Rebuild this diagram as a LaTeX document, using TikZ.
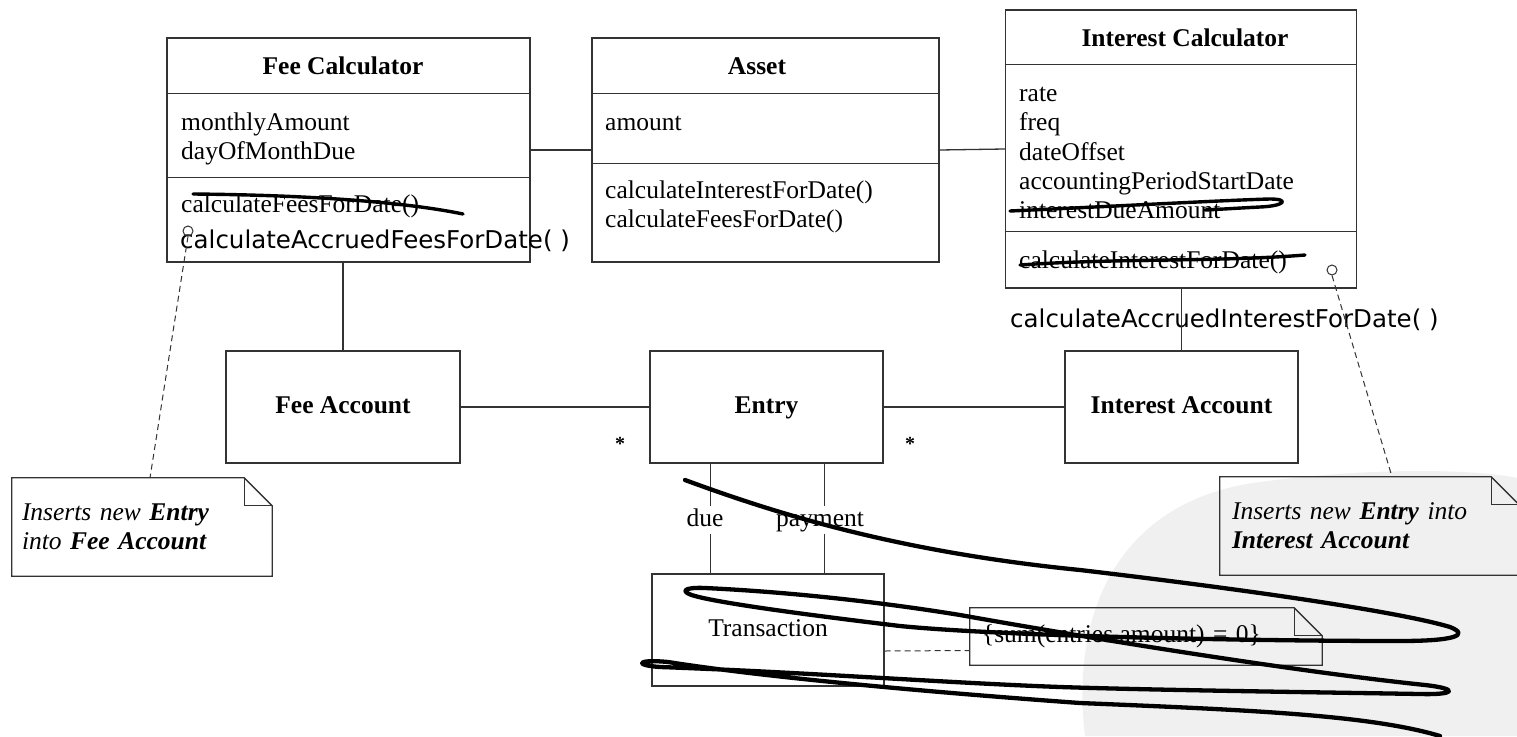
\documentclass[tikz,border=0pt]{standalone}
\usepackage{fontspec}
\setmainfont{Liberation Serif}
\newfontfamily\handfont{DejaVu Sans}
\usetikzlibrary{positioning}

\tikzset{
  cls/.style={draw=black!80, line width=1.3pt, inner sep=0, text height=0.7em, text depth=0.22em},
  attr/.style={inner sep=0, anchor=west, align=left},
  wire/.style={draw=black!80, line width=1.3pt},
  hint/.style={draw=black!80, line width=1pt, dash pattern=on 6pt off 4pt},
  notebox/.style={inner xsep=10pt, inner ysep=0, align=left, font=\itshape},
  scribble/.style={line width=4.3pt, line cap=round, line join=round},
  hand/.style={inner sep=0, anchor=west, font=\handfont\fontsize{24.5}{26}\selectfont},
  mult/.style={inner sep=0, font=\bfseries\fontsize{20}{22}\selectfont},
  role/.style={fill=white, inner sep=2pt, text height=0.7em, text depth=0.22em},
}

\begin{document}
\fontsize{25.5}{29.3}\selectfont
\begin{tikzpicture}[x=1pt, y=-1pt]
  \path[use as bounding box, fill=white] (0,0) rectangle (1517,736);
  % watermark
  \fill[black!6] (1085,736) .. controls (1070,610) and (1120,500) .. (1260,482)
    .. controls (1380,466) and (1480,470) .. (1517,478) -- (1517,736) -- cycle;

  % Paths, nodes and wires:
  \node[cls, minimum width=363, minimum height=224] (feeCalc) at (348.5,150) {};
  \draw[wire] ([yshift=-56pt]feeCalc.north west) -- ([yshift=-56pt]feeCalc.north east);
  \draw[wire] ([yshift=-140pt]feeCalc.north west) -- ([yshift=-140pt]feeCalc.north east);
  \node[font=\bfseries] (feeCalcT) at (343,66) {Fee Calculator};
  \node[attr] (feeCalcA) at (181,139) {monthlyAmount\\dayOfMonthDue};
  \node[attr] (feeCalcM) at (181,206) {calculateFeesForDate()};
  \node[hand] (feeCalcH) at (180,241) {calculateAccruedFeesForDate( )};

  \node[cls, minimum width=347, minimum height=224] (asset) at (765.5,150) {};
  \draw[wire] ([yshift=-56pt]asset.north west) -- ([yshift=-56pt]asset.north east);
  \draw[wire] ([yshift=-126pt]asset.north west) -- ([yshift=-126pt]asset.north east);
  \node[font=\bfseries] (assetT) at (757,66) {Asset};
  \node[attr] (assetA) at (605,123) {amount};
  \node[attr] (assetM) at (605,207) {calculateInterestForDate()\\calculateFeesForDate()};

  \node[cls, minimum width=351, minimum height=278] (intCalc) at (1181,149) {};
  \draw[wire] ([yshift=-55pt]intCalc.north west) -- ([yshift=-55pt]intCalc.north east);
  \draw[wire] ([yshift=-222pt]intCalc.north west) -- ([yshift=-222pt]intCalc.north east);
  \node[font=\bfseries] (intCalcT) at (1185,38) {Interest Calculator};
  \node[attr] (intCalcA) at (1019,153) {rate\\freq\\dateOffset\\accountingPeriodStartDate\\interestDueAmount};
  \node[attr] (intCalcM) at (1019,262) {calculateInterestForDate()};
  \node[hand] (intCalcH) at (1010,320) {calculateAccruedInterestForDate( )};

  \node[cls, minimum width=234, minimum height=112, font=\bfseries] (feeAcc) at (343,407) {Fee Account};
  \node[cls, minimum width=233, minimum height=112, font=\bfseries] (entry) at (766.5,407) {Entry};
  \node[cls, minimum width=233, minimum height=112, font=\bfseries] (intAcc) at (1181.5,407) {Interest Account};
  \node[cls, minimum width=232, minimum height=112] (trans) at (768,630) {Transaction};

  \draw[wire] (feeCalc.east) -- (asset.west);
  \draw[wire] (asset.east) -- (intCalc.west);
  \draw[wire] (feeAcc.north) -- (feeAcc.north |- feeCalc.south);
  \draw[wire] (intAcc.north) -- (intAcc.north |- intCalc.south);
  \draw[wire] (feeAcc.east) -- (entry.west);
  \draw[wire] (entry.east) -- (intAcc.west);
  \node[mult] (multL) at (620,444) {*};
  \node[mult] (multR) at (910,444) {*};
  \draw[wire] ([xshift=-56pt]entry.south) -- ([xshift=-56pt]entry.south |- trans.north);
  \draw[wire] ([xshift=58pt]entry.south) -- ([xshift=58pt]entry.south |- trans.north);
  \node[role] (due) at (705,520) {due};
  \node[role] (pay) at (820,520) {payment};

  % notes
  \node[circle, draw=black!80, line width=1pt, minimum size=10, inner sep=0] (feeDot) at (188,231) {};
  \node[circle, draw=black!80, line width=1pt, minimum size=10, inner sep=0] (intDot) at (1332,270) {};
  \node[notebox, text width=240, minimum height=98] (feeNote) at (142,527) {Inserts new \textbf{Entry}\\into \textbf{Fee Account}};
  \node[notebox, inner xsep=12pt, text width=275, minimum height=98] (intNote) at (1369.5,526) {Inserts new \textbf{Entry} into\\\textbf{Interest Account}};
  \node[inner xsep=12pt, inner ysep=0, text width=328, minimum height=57, align=left] (sumNote) at (1146,636.5) {\{sum(entries.amount) = 0\}};
  \foreach \n in {feeNote, intNote, sumNote} {
    \draw[wire] (\n.north west) -- ([xshift=-28pt]\n.north east) -- ([yshift=-28pt]\n.north east)
      -- (\n.south east) -- (\n.south west) -- cycle;
    \draw[wire] ([xshift=-28pt]\n.north east) |- ([yshift=-28pt]\n.north east);
  }
  \draw[hint] (feeDot.south) -- ([xshift=8pt]feeNote.north);
  \draw[hint] (intDot.south) -- ([xshift=22.5pt]intNote.north);
  \draw[hint] ([yshift=-21pt]trans.east) -- ([yshift=-14pt]sumNote.west);

  % scribbles
  \draw[scribble, line width=3.4pt] (193,194) .. controls (300,195) and (400,201) .. (463,214);
  \draw[scribble, line width=3.4pt] (1010,211) .. controls (1120,206) and (1230,200) .. (1270,199)
    .. controls (1290,199) and (1285,206) .. (1260,207) .. controls (1240,208) and (1225,209) .. (1205,210);
  \draw[scribble, line width=3.4pt] (1020,265) .. controls (1120,258) and (1220,262) .. (1305,255);
  \draw[scribble] (685,480) .. controls (780,515) and (900,552) .. (1080,570)
    .. controls (1250,590) and (1400,612) .. (1450,627)
    .. controls (1470,635) and (1455,641) .. (1400,641)
    .. controls (1250,641) and (1000,636) .. (900,626)
    .. controls (800,614) and (720,603) .. (695,596)
    .. controls (680,592) and (682,587) .. (705,588)
    .. controls (790,592) and (880,602) .. (960,615)
    .. controls (1100,640) and (1300,672) .. (1425,685)
    .. controls (1460,689) and (1455,695) .. (1420,694)
    .. controls (1300,692) and (1150,690) .. (1060,687)
    .. controls (950,683) and (800,672) .. (660,667)
    .. controls (632,665) and (638,659) .. (668,662)
    .. controls (750,675) and (900,690) .. (1080,703)
    .. controls (1250,710) and (1370,715) .. (1440,736);
\end{tikzpicture}
\end{document}
